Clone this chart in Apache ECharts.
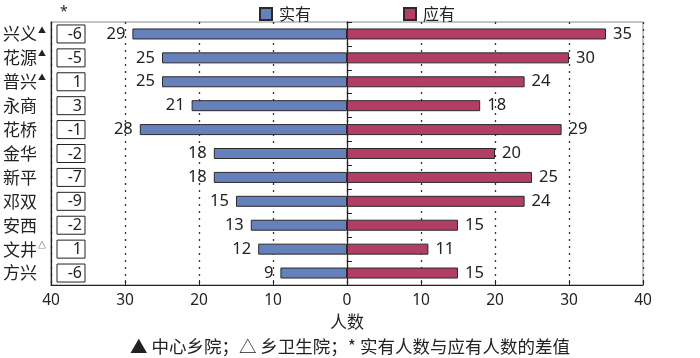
<!DOCTYPE html>
<html>
<head>
<meta charset="utf-8">
<script src="https://cdn.jsdelivr.net/npm/echarts@6/dist/echarts.min.js"></script>
<style>html,body{margin:0;padding:0;background:#fff}#c{width:700px;height:358px}</style>
</head>
<body>
<div id="c"></div>
<script>
var categories = ['兴义', '花源', '普兴', '永商', '花桥', '金华', '新平', '邓双', '安西', '文井', '方兴'];
var marks = ['▲', '▲', '▲', '', '', '', '', '', '', '△', ''];
var actual = [29, 25, 25, 21, 28, 18, 18, 15, 13, 12, 9];
var required = [35, 30, 24, 18, 29, 20, 25, 24, 15, 11, 15];
var diffs = [-6, -5, 1, 3, -1, -2, -7, -9, -2, 1, -6];
var xTicks = [-40, -30, -20, -10, 0, 10, 20, 30, 40];

var FONT = '"Noto Sans", "Noto Sans CJK SC", sans-serif';
var CJK = '"Noto Sans CJK SC", sans-serif';
var chart = echarts.init(document.getElementById('c'));

var option = {
  animation: false,
  textStyle: { fontFamily: FONT },
  title: [
    { text: '*', left: 55, top: 0, textStyle: { fontSize: 14, fontWeight: 'normal', color: '#222', fontFamily: FONT } },
    { text: '▲ 中心乡院；△ 乡卫生院；* 实有人数与应有人数的差值', left: 'center', top: 333,
      textStyle: { fontSize: 17.5, fontWeight: 'normal', color: '#222', fontFamily: CJK } }
  ],
  legend: {
    left: 254, top: 1, itemWidth: 12, itemHeight: 12, itemGap: 92,
    textStyle: { fontSize: 16, color: '#222', fontFamily: CJK, padding: [0, 0, 0, 2] },
    data: [{ name: '实有', icon: 'rect' }, { name: '应有', icon: 'rect' }]
  },
  grid: { left: 48, right: 57, top: 22, bottom: 73, show: true, borderColor: '#888', borderWidth: 1, backgroundColor: 'transparent' },
  xAxis: {
    type: 'value', min: -40, max: 40, interval: 10,
    name: '人数', nameLocation: 'middle', nameGap: 25,
    nameTextStyle: { fontSize: 17, color: '#222', fontFamily: CJK },
    axisLine: { show: true, lineStyle: { color: '#222', width: 1.2 } },
    axisTick: { show: true, inside: true, length: 5, lineStyle: { color: '#222' } },
    axisLabel: { fontSize: 15.5, color: '#222', margin: 8, formatter: function (v) { return Math.abs(v); } },
    splitLine: { show: true, lineStyle: { color: '#333', type: [2, 5], width: 1.3 } }
  },
  yAxis: [
    {
      type: 'category', inverse: true, position: 'left', data: categories,
      axisLine: { show: true, onZero: false, lineStyle: { color: '#222', width: 1.2 } },
      axisTick: { show: false },
      axisLabel: {
        margin: 48, align: 'left', fontFamily: CJK, fontSize: 17, color: '#222',
        formatter: function (v, i) { return marks[i] ? v + '{s|' + marks[i] + '}' : v; },
        rich: { s: { fontSize: 8, verticalAlign: 'top', padding: [0, 0, 8, 1], color: '#222' } }
      }
    },
    {
      type: 'category', inverse: true, position: 'left', data: categories,
      axisLine: { show: true, onZero: true, lineStyle: { color: '#222', width: 1.3 } },
      axisTick: { show: true, inside: true, length: 5, lineStyle: { color: '#222' } },
      axisLabel: { show: false }
    },
    {
      type: 'category', inverse: true, position: 'left', data: categories,
      axisLine: { show: false, onZero: false },
      axisTick: { show: false },
      axisLabel: {
        inside: true, margin: 6,
        formatter: function (v, i) { return '{b|' + diffs[i] + '}'; },
        rich: { b: { width: 22, height: 17, align: 'right', fontSize: 16, color: '#222', borderColor: '#222', borderWidth: 1, padding: [1, 3, 0, 3] } }
      }
    }
  ],
  series: [
    {
      name: '实有', type: 'bar', yAxisIndex: 0, barWidth: 11,
      data: actual.map(function (v) { return -v; }),
      itemStyle: { color: '#6680bc', borderColor: '#2a2a2a', borderWidth: 1 },
      label: { show: true, position: 'left', distance: 7, fontSize: 16.5, color: '#222', formatter: function (p) { return Math.abs(p.value); } }
    },
    {
      name: '应有', type: 'bar', yAxisIndex: 0, barWidth: 11, barGap: '-100%',
      data: required,
      itemStyle: { color: '#b23e67', borderColor: '#2a2a2a', borderWidth: 1 },
      label: { show: true, position: 'right', distance: 7, fontSize: 16.5, color: '#222' }
    }
  ]
};
chart.setOption(option);
</script>
</body>
</html>
